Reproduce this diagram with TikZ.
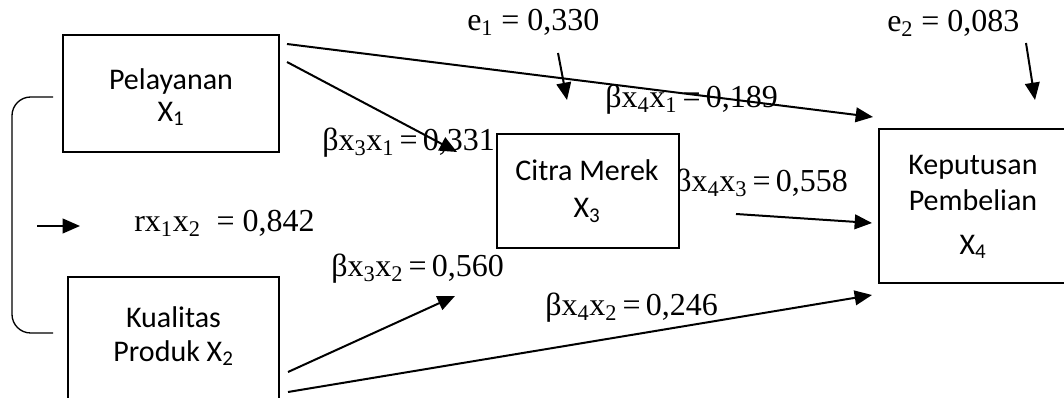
\documentclass[tikz,border=0pt]{standalone}
\usepackage{fontspec}
\setmainfont{Liberation Serif}
\newfontfamily\boxfont{Carlito}
\usetikzlibrary{fit,arrows.meta}
\begin{document}
\begin{tikzpicture}[x=0.75pt,y=-0.75pt,
  box/.style={draw,line width=1pt,fill=white,inner sep=0pt},
  boxtxt/.style={inner sep=0pt,align=center,font=\boxfont\fontsize{22.5}{24}\selectfont},
  lbl/.style={anchor=base west,inner sep=0pt,font=\fontsize{24}{28}\selectfont},
  arr/.style={line width=1.5pt,-{Triangle[length=13pt,width=11pt]}}]
\useasboundingbox (0,0) rectangle (1064,398);
\clip (0,0) rectangle (1064,398);
% labels
\node[lbl] (le1) at (467,31) {e\textsubscript{1} = 0,330};
\node[lbl] (le2) at (887,32) {e\textsubscript{2} = 0,083};
\node[lbl] (l41) at (605,108) {βx\textsubscript{4}x\textsubscript{1}\,=\,0,189};
\node[lbl] (l31) at (322,151) {βx\textsubscript{3}x\textsubscript{1}\,=\,0,331};
\node[lbl] (l43) at (675,192) {βx\textsubscript{4}x\textsubscript{3}\,=\,0,558};
\node[lbl] (lr) at (134,232) {rx\textsubscript{1}x\textsubscript{2}\ \ = 0,842};
\node[lbl] (l32) at (331,277) {βx\textsubscript{3}x\textsubscript{2}\,=\,0,560};
\node[lbl] (l42) at (545,316) {βx\textsubscript{4}x\textsubscript{2}\,=\,0,246};
% arrow end points
\coordinate (a1s) at (287,44);  \coordinate (a1e) at (873,117);
\coordinate (a2s) at (287,62);  \coordinate (a2e) at (457,152);
\coordinate (e1s) at (558,53);  \coordinate (e1e) at (567,100);
\coordinate (e2s) at (1026,43); \coordinate (e2e) at (1035,100);
\coordinate (a3s) at (736,214); \coordinate (a3e) at (872,223);
\coordinate (a4s) at (288,372); \coordinate (a4e) at (455,296);
\coordinate (a5s) at (288,392); \coordinate (a5e) at (872,295);
\coordinate (ars) at (37,226);  \coordinate (are) at (80,226);
\draw[arr] (a1s) -- (a1e);
\draw[arr] (a2s) -- (a2e);
\draw[arr] (e1s) -- (e1e);
\draw[arr] (e2s) -- (e2e);
\draw[arr] (a3s) -- (a3e);
\draw[arr] (a4s) -- (a4e);
\draw[arr] (a5s) -- (a5e);
\draw[arr] (ars) -- (are);
% bracket
\coordinate (bt) at (53,97); \coordinate (bb) at (53,333);
\draw[line width=1pt,rounded corners=14pt] (bt) -- (12,97) -- (12,333) -- (bb);
% boxes
\node[box,fit={(63,35)(279,152)}] (x1) {};
\node[boxtxt] (x1t) at (171,97) {Pelayanan\\X\textsubscript{1}};
\node[box,fit={(68,277)(279,430)}] (x2) {};
\node[boxtxt] (x2t) at (173.5,336) {Kualitas\\[1pt]Produk X\textsubscript{2}};
\node[box,fit={(497,134)(679,248)}] (x3) {};
\node[boxtxt] (x3t) at (587,191) {Citra Merek\\[4pt]X\textsubscript{3}};
\node[box,fit={(879,129)(1080,283)}] (x4) {};
\node[boxtxt] (x4t) at (973,207) {Keputusan\\[3pt]Pembelian\\[9pt]X\textsubscript{4}};
\end{tikzpicture}
\end{document}
